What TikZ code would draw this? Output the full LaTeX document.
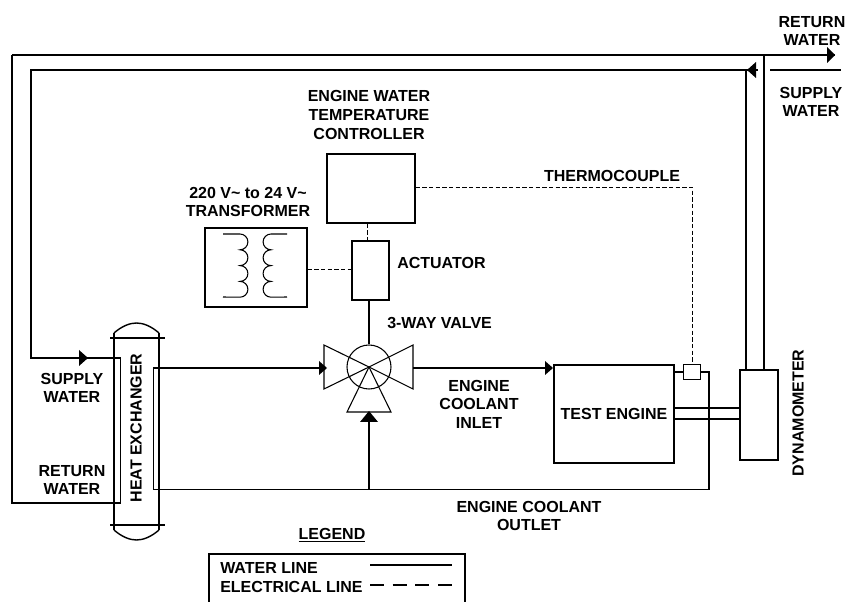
\documentclass[tikz,border=0pt]{standalone}
\usepackage{fontspec}
\setmainfont{Liberation Sans}
\begin{document}
\begin{tikzpicture}[x=0.75pt,y=-0.75pt,
  pipe/.style={line width=1.4pt},
  thin line/.style={line width=1.05pt},
  elec/.style={line width=0.6pt,dash pattern=on 3.2pt off 1.8pt},
  boxed/.style={draw,line width=1.25pt,inner sep=0,anchor=north west},
  lab/.style={font=\fontsize{12}{13.9}\selectfont\bfseries,align=center,inner sep=0},
  tip/.style={fill=black,draw=none}]
\useasboundingbox (0,0) rectangle (847,602);
\coordinate (retEnd) at (835,55);
\coordinate (dynTL) at (746,369);
\coordinate (dynTR) at (764,369);
\node[boxed,minimum width=88*0.75pt,minimum height=69*0.75pt] (ctrl) at (326,153) {};
\node[boxed,minimum width=37*0.75pt,minimum height=59*0.75pt] (act) at (351,240) {};
\node[boxed,minimum width=102*0.75pt,minimum height=79*0.75pt] (trans) at (204,227) {};
\node[boxed,minimum width=120*0.75pt,minimum height=98*0.75pt] (eng) at (553,364) {};
\node[boxed,minimum width=38*0.75pt,minimum height=90*0.75pt] (dyn) at (739,369) {};
\node[draw,line width=0.8pt,fill=white,inner sep=0,minimum width=17*0.75pt,minimum height=15*0.75pt,anchor=north west] (tc) at (683,364) {};
\node[circle,draw,line width=0.8pt,minimum size=44*0.75pt,inner sep=0] (valve) at (369,367) {};
% valve triangles
\draw[line width=0.8pt] (valve.center)--(324,345)--(324,389)--cycle;
\draw[line width=0.8pt] (valve.center)--(413,345)--(413,389)--cycle;
\draw[line width=0.8pt] (valve.center)--(347,412)--(391,412)--cycle;
% water lines
\draw[pipe] (12,55)--(retEnd);
\draw[pipe] (12,55)--(12,503)--(120.5,503)--(120.5,358)--(31,358)--(31,70)--(746,70)--(758,70);
\draw[thin line] (746,70)--(dynTL);
\draw[thin line] (764,55)--(dynTR);
\draw[pipe] (770,70)--(841,70);
\fill[tip] (835,55)--(827,47)--(827,63)--cycle;
\fill[tip] (747,70)--(756,62)--(756,78)--cycle;
\fill[tip] (88,358)--(79,350)--(79,366)--cycle;
% heat exchanger
\draw[thin line] (114,333)--(114,530);
\draw[thin line] (159,333)--(159,530);
\draw[thin line] (110,338)--(165,338);
\draw[thin line] (110,525)--(165,525);
\draw[thin line] (114,333) .. controls (122,326) and (130,323) .. (136.5,323) .. controls (143,323) and (151,326) .. (159,333);
\draw[thin line] (114,530) .. controls (122,537) and (130,540) .. (136.5,540) .. controls (143,540) and (151,537) .. (159,530);
% coolant
\draw[pipe] (324,368)--(153.5,368)--(153.5,489.5)--(709,489.5)--(709,372)--(tc.east|-709,372);
\draw[pipe] (tc.west|-709,372)--(673,372);
\draw[pipe] (369,489.5)--(369,420);
\draw[pipe] (413,368)--(546,368);
\fill[tip] (553,368)--(545,361)--(545,375)--cycle;
\fill[tip] (327,368)--(319,361)--(319,375)--cycle;
\fill[tip] (369,411)--(360,422)--(378,422)--cycle;
% shaft
\draw[pipe] (673,408)--(739,408);
\draw[pipe] (673,419)--(739,419);
% stem
\draw[pipe] (act.south-|369,0)--(valve.north);
% electrical
\draw[elec] (ctrl.south-|367,0)--(act.north-|367,0);
\draw[elec] (trans.east|-0,269)--(act.west|-0,269);
\draw[elec] (ctrl.east|-0,187)--(692,187)--(692,364);
% coils
\draw[line width=0.8pt] (223,234)--(240,234)
  arc[start angle=-90,end angle=90,radius=7.9]
  arc[start angle=-90,end angle=90,radius=7.9]
  arc[start angle=-90,end angle=90,radius=7.9]
  arc[start angle=-90,end angle=90,radius=7.9]--(223,297);
\draw[line width=0.8pt] (287,234)--(271,234)
  arc[start angle=-90,end angle=-270,radius=7.9]
  arc[start angle=-90,end angle=-270,radius=7.9]
  arc[start angle=-90,end angle=-270,radius=7.9]
  arc[start angle=-90,end angle=-270,radius=7.9]--(287,297);
% legend
\draw[line width=1.8pt] (209,602)--(209,554)--(465,554)--(465,602);
\coordinate (w1) at (370,565);\coordinate (w2) at (452,565);
\draw[thin line] (w1)--(w2);
\coordinate (e1) at (370,585);\coordinate (e2) at (452,585);
\draw[thin line,dash pattern=on 10.5pt off 6.5pt] (e1)--(e2);
% labels
\node[lab] (l1) at (369,115) {ENGINE WATER\\TEMPERATURE\\CONTROLLER};
\node[lab] (l2) at (248,202) {220 V\char`~{} to 24 V\char`~\\TRANSFORMER};
\node[lab,anchor=west] (l3) at (397,263) {ACTUATOR};
\node[lab,anchor=west] (l4) at (387,323) {3-WAY VALVE};
\node[lab] (l5) at (479,404) {ENGINE\\COOLANT\\INLET};
\node[lab] (l6) at (612,176) {THERMOCOUPLE};
\node[lab] (l7) at (614,414) {TEST ENGINE};
\node[lab,rotate=90] (l8) at (798,413) {DYNAMOMETER};
\node[lab,rotate=90] (l9) at (136,428) {HEAT EXCHANGER};
\node[lab] (l10) at (72,388) {SUPPLY\\WATER};
\node[lab] (l11) at (72,480) {RETURN\\WATER};
\node[lab] (l12) at (529,516) {ENGINE COOLANT\\OUTLET};
\node[lab] (l13) at (812,31) {RETURN\\WATER};
\node[lab] (l14) at (811,102) {SUPPLY\\WATER};
\node[lab] (l15) at (332,535) {\underline{LEGEND}};
\node[lab,anchor=west] (l16) at (220,568) {WATER LINE};
\node[lab,anchor=west] (l17) at (220,587) {ELECTRICAL LINE};
\end{tikzpicture}
\end{document}
